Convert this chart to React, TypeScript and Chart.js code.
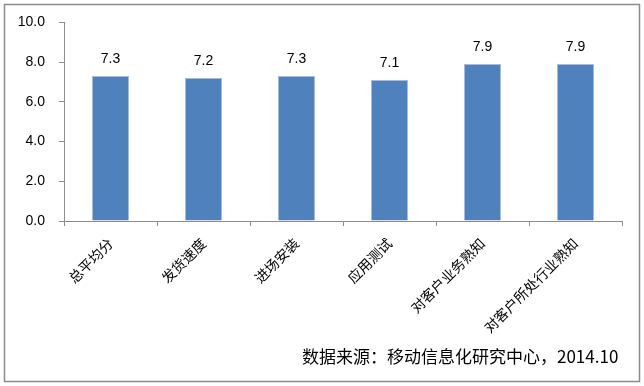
import React, { useEffect, useRef } from "react";
import { Chart, registerables } from "chart.js";

Chart.register(...registerables);

const categories = ["总平均分", "发货速度", "进场安装", "应用测试", "对客户业务熟知", "对客户所处行业熟知"];
const scores = [7.3, 7.2, 7.3, 7.1, 7.9, 7.9];
const yTicks = [0, 2, 4, 6, 8, 10];
const sourceText = "数据来源：移动信息化研究中心，2014.10";

const NUM_FONT = "'Liberation Sans', Arial, 'Noto Sans CJK SC', sans-serif";
const CJK_FONT = "'Noto Sans CJK SC', 'Liberation Sans', sans-serif";

const decorPlugin = {
  id: "decor",
  afterDraw(chart: any) {
    const ctx = chart.ctx;
    ctx.save();
    // outer frame
    ctx.strokeStyle = "#8c8c8c";
    ctx.lineWidth = 1.5;
    ctx.strokeRect(4.5, 4.5, chart.width - 9, chart.height - 9);
    // value labels
    const meta = chart.getDatasetMeta(0);
    ctx.fillStyle = "#000";
    ctx.font = `14px ${NUM_FONT}`;
    ctx.textAlign = "center";
    ctx.textBaseline = "middle";
    meta.data.forEach((bar: any, i: number) => {
      ctx.fillText(scores[i].toFixed(1), bar.x, bar.y - 17);
    });
    // source note
    ctx.font = `17px ${CJK_FONT}`;
    ctx.textAlign = "left";
    ctx.fillText(sourceText, 302, 357);
    ctx.restore();
  },
};

export default function App() {
  const ref = useRef<HTMLCanvasElement>(null);
  useEffect(() => {
    if (!ref.current) return;
    const chart = new Chart(ref.current, {
      type: "bar",
      data: {
        labels: categories,
        datasets: [
          {
            data: scores,
            backgroundColor: "#4f81bd",
            borderColor: "#a7bcdc",
            borderWidth: 1,
            barPercentage: 0.8,
            categoryPercentage: 0.5,
          },
        ],
      },
      options: {
        animation: false,
        responsive: false,
        maintainAspectRatio: false,
        layout: { padding: { left: 0, top: 21, right: 22, bottom: 25 } },
        plugins: { legend: { display: false }, tooltip: { enabled: false } },
        scales: {
          x: {
            afterFit(scale: any) {
              scale.height = 140;
            },
            border: { color: "#8c8c8c", width: 1 },
            grid: { drawOnChartArea: false, drawTicks: true, tickLength: 5, color: "#8c8c8c", offset: true },
            ticks: {
              color: "#000",
              font: { family: CJK_FONT, size: 14 },
              maxRotation: 45,
              minRotation: 45,
              padding: 9,
              autoSkip: false,
            },
          },
          y: {
            min: 0,
            max: 10,
            afterFit(scale: any) {
              scale.width = 64;
            },
            afterBuildTicks(scale: any) {
              scale.ticks = yTicks.map((v) => ({ value: v }));
            },
            border: { color: "#8c8c8c", width: 1 },
            grid: { drawOnChartArea: false, drawTicks: true, tickLength: 5, color: "#8c8c8c" },
            ticks: {
              color: "#000",
              font: { family: NUM_FONT, size: 14 },
              padding: 14,
              callback: (v: any) => Number(v).toFixed(1),
            },
          },
        },
      },
      plugins: [decorPlugin],
    });
    return () => chart.destroy();
  }, []);
  return (
    <div style={{ position: "absolute", left: 0, top: 0, width: 644, height: 386, background: "#fff" }}>
      <canvas ref={ref} width={644} height={386} style={{ width: 644, height: 386, display: "block" }} />
    </div>
  );
}
